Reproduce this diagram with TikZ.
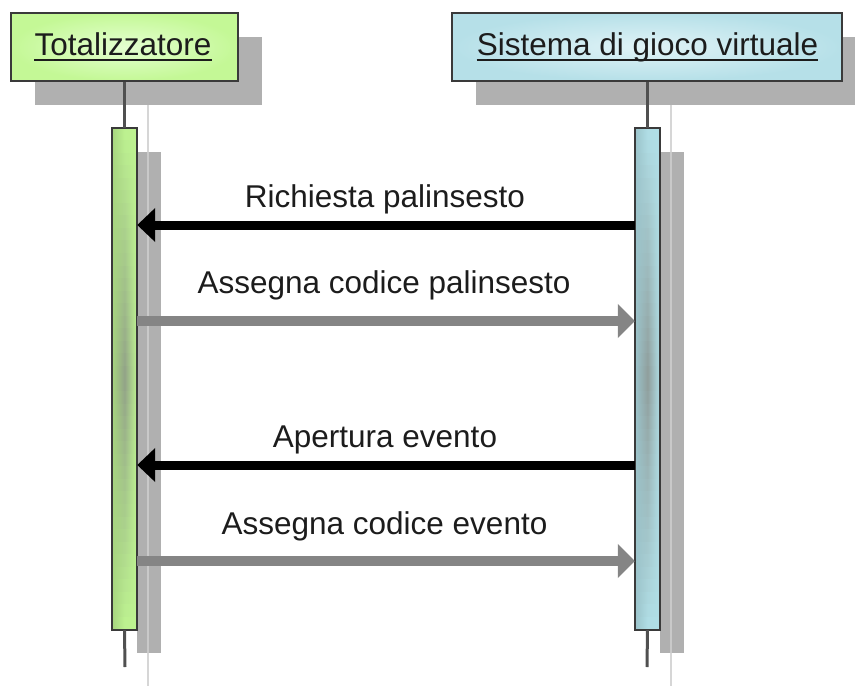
\documentclass[tikz,border=0pt]{standalone}
\usepackage{fontspec}
\setmainfont{Liberation Sans}
\usetikzlibrary{arrows.meta}
\definecolor{shadowgray}{HTML}{B0B0B0}
\definecolor{shadowline}{HTML}{D6D6D6}
\definecolor{lifegray}{HTML}{505050}
\definecolor{bordergray}{HTML}{3A3A3A}
\definecolor{hdrgreen}{HTML}{C4F896}
\definecolor{hdrgreenin}{HTML}{E4FFD0}
\definecolor{hdrblue}{HTML}{B6E0E8}
\definecolor{hdrbluein}{HTML}{E0F3F7}
\definecolor{bargreen}{HTML}{BDF290}
\definecolor{barblue}{HTML}{B0DEE6}
\definecolor{barmid}{HTML}{858A85}
\definecolor{msggray}{HTML}{858585}
\definecolor{txt}{HTML}{1C1C1C}
\tikzset{
  hdrbox/.style={draw=bordergray, line width=2pt, inner sep=0pt, minimum width=#1, minimum height=68pt},
  hdrtext/.style={inner sep=0pt, anchor=base, text=txt, font=\fontsize{31.5}{38}\selectfont},
  lifeline/.style={draw=lifegray, line width=3pt},
  shline/.style={draw=shadowline, line width=2pt},
  actbar/.style={inner sep=0pt, minimum width=25pt, minimum height=502pt},
  msgtext/.style={inner sep=0pt, anchor=base, text=txt, font=\fontsize{31.5}{38}\selectfont},
  callmsg/.style={draw=black, line width=9pt, -{Triangle[length=18pt,width=33pt]}},
  retmsg/.style={draw=msggray, line width=10pt, -{Triangle[length=17pt,width=33pt]}},
  uline/.style={draw=txt, line width=1.6pt}
}
\begin{document}
\begin{tikzpicture}[x=1pt,y=-1pt]
\useasboundingbox (0,0) rectangle (855,686);
% header shadows
\fill[shadowgray] (35,37) rectangle (262,105);
\fill[shadowgray] (476,37) rectangle (855,105);
% activation shadows
\fill[shadowgray] (137,152) rectangle (161,653);
\fill[shadowgray] (660,152) rectangle (684,653);
% shadow lifelines
\coordinate (sLtop) at (148,105);
\coordinate (sLbot) at (148,686);
\coordinate (sRtop) at (671,105);
\coordinate (sRbot) at (671,686);
\draw[shline] (sLtop) -- (sLbot);
\draw[shline] (sRtop) -- (sRbot);
\draw[draw=black, opacity=0.06, line width=2pt] (148,152) -- (148,653);
\draw[draw=black, opacity=0.06, line width=2pt] (671,152) -- (671,653);
% header boxes
\node[hdrbox=227pt, inner color=hdrgreenin, outer color=hdrgreen] (hdrL) at (124.5,47) {};
\node[hdrbox=390pt, inner color=hdrbluein, outer color=hdrblue] (hdrR) at (647,47) {};
\node[hdrtext] (tL) at (123,55) {Totalizzatore};
\node[hdrtext] (tR) at (647.5,55) {Sistema di gioco virtuale};
\draw[uline] ([yshift=-5pt]tL.base west) -- ([yshift=-5pt]tL.base east);
\draw[uline] ([yshift=-5pt]tR.base west) -- ([yshift=-5pt]tR.base east);
% activation bars
\node[actbar, fill=bargreen] (actL) at (124.5,379) {};
\node[actbar, fill=barblue] (actR) at (647.5,379) {};
\foreach \i in {0,...,39} {
  \pgfmathsetmacro\ya{128+\i*12.55}
  \pgfmathsetmacro\yb{\ya+12.9}
  \pgfmathsetmacro\p{int(78*(1-abs(\ya+6.275-379)/251))}
  \shade[left color=bargreen!88!black, right color=bargreen, middle color=barmid!\p!bargreen]
    (112,\ya) rectangle (137,\yb);
  \shade[left color=barblue!88!black, right color=barblue, middle color=barmid!\p!barblue]
    (635,\ya) rectangle (660,\yb);
}
\draw[draw=bordergray, line width=1.5pt] (actL.north west) rectangle (actL.south east);
\draw[draw=bordergray, line width=1.5pt] (actR.north west) rectangle (actR.south east);
% lifelines
\coordinate (endL) at (125,667);
\coordinate (endR) at (647,667);
\draw[lifeline] (hdrL.south -| actL.center) -- (actL.north);
\draw[lifeline] (hdrR.south -| actR.center) -- (actR.north);
\draw[lifeline] (actL.south) -- (endL);
\draw[lifeline] (actR.south) -- (endR);
% message anchor points
\coordinate (m1) at (0,225);
\coordinate (m2) at (0,321);
\coordinate (m3) at (0,465);
\coordinate (m4) at (0,561);
% messages
\draw[callmsg] (actR.west |- m1) -- (actL.east |- m1);
\draw[retmsg] (actL.east |- m2) -- (actR.west |- m2);
\draw[callmsg] (actR.west |- m3) -- (actL.east |- m3);
\draw[retmsg] (actL.east |- m4) -- (actR.west |- m4);
% labels
\node[msgtext] (l1) at (385,207) {Richiesta palinsesto};
\node[msgtext] (l2) at (384,293) {Assegna codice palinsesto};
\node[msgtext] (l3) at (385,447) {Apertura evento};
\node[msgtext] (l4) at (384.5,534) {Assegna codice evento};
\end{tikzpicture}
\end{document}
